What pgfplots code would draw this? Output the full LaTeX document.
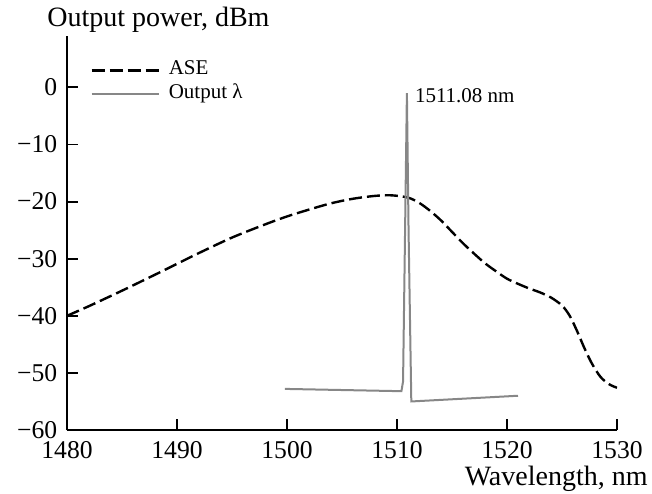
\documentclass[border=0pt]{standalone}
\usepackage{pgfplots}
\pgfplotsset{compat=1.18}
\usepackage{fontspec}
\setmainfont{Liberation Serif}
\definecolor{lasergray}{RGB}{135,135,135}
\begin{document}
\fontsize{12.8bp}{15bp}\selectfont
\begin{tikzpicture}
\begin{axis}[
  name=ax,
  scale only axis,
  width=275bp, height=197bp,
  xmin=1480, xmax=1530, ymin=-60, ymax=9,
  axis lines=left,
  axis line style={-, line width=0.9bp},
  tick align=inside,
  major tick length=5.5bp,
  tick style={line width=0.9bp, black},
  xtick={1480,1490,1500,1510,1520,1530},
  xticklabels={1480,1490,1500,1510,1520,1530},
  ytick={-60,-50,-40,-30,-20,-10,0},
  yticklabels={−60,−50,−40,−30,−20,−10,0},
  xticklabel style={font=\fontsize{12.8bp}{15bp}\selectfont, anchor=north, inner sep=0pt, yshift=-5.6bp},
  yticklabel style={font=\fontsize{12.8bp}{15bp}\selectfont, anchor=east, inner sep=0pt, xshift=-4.75bp},
  every axis y label/.style={at={(rel axis cs:0,1)}, anchor=base west, inner sep=0pt, xshift=-10bp, yshift=5bp, font=\fontsize{14bp}{16bp}\selectfont},
  every axis x label/.style={at={(rel axis cs:1,0)}, anchor=base east, inner sep=0pt, xshift=15.5bp, yshift=-27.8bp, font=\fontsize{14bp}{16bp}\selectfont},
  ylabel={Output power, dBm},
  xlabel={Wavelength, nm},
  legend image code/.code={\draw[#1] (0bp,0bp) -- (33.5bp,0bp);},
  legend style={draw=none, fill=none, at={(rel axis cs:0,1)}, anchor=north west,
    xshift=11.5bp, yshift=-11bp, inner sep=0pt,
    font=\fontsize{10.5bp}{12bp}\selectfont,
    nodes={inner sep=0pt, text height=8bp, text depth=4bp},
    row sep=0pt, column sep=4.5bp},
  legend cell align=left,
]
\addplot[black, line width=1.2bp, dash pattern=on 6.5bp off 2.5bp, smooth] coordinates {
(1480,-40) (1482,-38.3) (1485,-35.6) (1488,-32.8) (1490,-30.9) (1492,-29.0)
(1495,-26.3) (1498,-24.0) (1500,-22.6) (1502,-21.4) (1504,-20.3) (1506,-19.5)
(1508,-19.0) (1509.5,-18.9) (1511,-19.3) (1512,-20.2) (1513,-21.6) (1514,-23.3)
(1515,-25.3) (1516,-27.3) (1517,-29.1) (1518,-30.8) (1519,-32.2) (1520,-33.5)
(1521,-34.4) (1522,-35.2) (1523,-35.9) (1524,-36.8) (1525,-38.2) (1525.7,-40.0)
(1526.4,-42.8) (1527,-45.5) (1527.7,-48.3) (1528.5,-50.7) (1529.3,-52.0) (1530,-52.6)
};
\addlegendentry{ASE}
\addplot[lasergray, line width=1bp] coordinates {
(1499.8,-52.8) (1510.4,-53.2) (1510.55,-51.5) (1510.9,-1.0) (1511.05,-25) (1511.3,-55.0) (1521.0,-54.0)
};
\addlegendentry{Output λ}
\node[anchor=west, inner sep=0pt, font=\fontsize{10.5bp}{12bp}\selectfont] at (axis cs:1511.6,-1.5) {1511.08 nm};
\coordinate (bbsw) at (rel axis cs:0,0);
\coordinate (bbne) at (rel axis cs:1,1);
\end{axis}
\pgfresetboundingbox
\useasboundingbox ([shift={(-33.5bp,-31.5bp)}]bbsw) rectangle ([shift={(17.5bp,18bp)}]bbne);
\end{tikzpicture}
\end{document}
